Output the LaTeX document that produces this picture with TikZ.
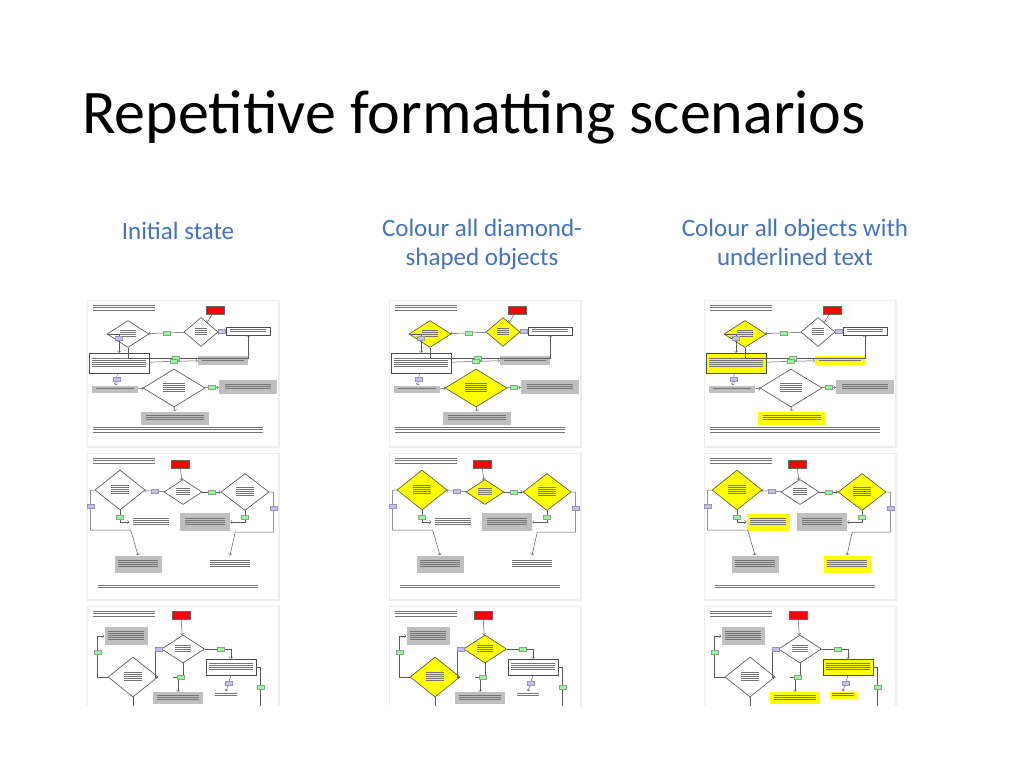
\documentclass[tikz,border=0pt]{standalone}
\usepackage{fontspec}
\setmainfont{Carlito}
\usetikzlibrary{shapes.geometric}
\definecolor{headblue}{RGB}{68,114,196}
\definecolor{hiyellow}{RGB}{255,255,0}

% fake text lines inside the thumbnails
\newcommand\lines[2]{{\color{black!55}\vbox{\foreach\k in {1,...,#2}{\hrule height .6pt width #1pt\vskip1.6pt}}}}

\tikzset{
  dia/.style={diamond,draw=black!70,line width=.6pt,inner sep=0,aspect=1.4},
  flowbox/.style={rectangle,draw=black!70,line width=.5pt,inner sep=1pt},
  startbox/.style={rectangle,fill=red,draw=black!60,line width=.3pt,minimum width=18pt,minimum height=8pt},
  yesbox/.style={rectangle,fill=green!45,draw=black!40,line width=.2pt,minimum width=7pt,minimum height=4pt,inner sep=0},
  nobox/.style={rectangle,fill=blue!25,draw=black!40,line width=.2pt,minimum width=7pt,minimum height=4pt,inner sep=0},
  flow/.style={draw=black!65,line width=.5pt},
  heading/.style={text=headblue,font=\fontsize{25}{29}\selectfont,align=center}
}

% thumbnail background
\newcommand\thumb{\fill[black!7] (-1,-1) rectangle (191.5,146.5);
  \fill[white] (0,0) rectangle (190,145);}

% colour sets: diamond, underlined diamond, underlined box, underlined grey box
\newcommand\colsone{\def\dfill{white}\def\dufill{white}\def\bufill{white}\def\gufill{black!25}}
\newcommand\colstwo{\def\dfill{hiyellow}\def\dufill{hiyellow}\def\bufill{white}\def\gufill{black!25}}
\newcommand\colsthree{\def\dfill{white}\def\dufill{hiyellow}\def\bufill{hiyellow}\def\gufill{hiyellow}}

\newcommand\rowone{
  \thumb
  \node[anchor=north west,inner sep=0] (hd) at (5,4) {\lines{62}{3}};
  \node[startbox] (start) at (127,9) {};
  \node[dia,fill=\dufill,minimum width=42pt,minimum height=27pt] (d1) at (40,33) {\lines{16}{4}};
  \node[dia,fill=\dfill,minimum width=34pt,minimum height=29pt] (d2) at (113,31) {\lines{12}{4}};
  \node[flowbox,fill=white,minimum width=44pt,minimum height=8pt] (b1) at (160,30) {\lines{36}{2}};
  \node[flowbox,fill=\bufill,minimum width=60pt,minimum height=20pt] (b2) at (31,62) {\lines{54}{5}};
  \node[flowbox,fill=\gufill,draw=none,minimum width=50pt,minimum height=9pt] (g1) at (135,59) {\lines{42}{2}};
  \node[flowbox,fill=black!25,draw=none,minimum width=46pt,minimum height=7pt] (g2) at (27,88) {\lines{38}{1}};
  \node[dia,fill=\dfill,minimum width=62pt,minimum height=38pt] (d3) at (86,87) {\lines{22}{5}};
  \node[flowbox,fill=black!25,draw=none,minimum width=58pt,minimum height=14pt] (g3) at (160,86) {\lines{46}{3}};
  \node[flowbox,fill=\gufill,draw=none,minimum width=68pt,minimum height=13pt] (g4) at (87,117) {\lines{58}{3}};
  \node[anchor=north west,inner sep=0] (ft) at (5,126) {\lines{170}{3}};
  \draw[flow,->] (start) -- (d2);
  \draw[flow,->] (d2) -- node[yesbox]{} (d1);
  \draw[flow,->] (d2) -- node[nobox]{} (b1);
  \draw[flow,->] (d1.south) |- node[pos=.8,yesbox]{} ++(80,10) -| (b1.south);
  \draw[flow,->] (d1.west) -| node[pos=.6,nobox]{} (b2.north);
  \draw[flow,->] (b2) -- node[yesbox]{} (g1);
  \draw[flow,->] (b2) -- node[nobox]{} (g2);
  \draw[flow,->] (g2) -- (d3);
  \draw[flow,->] (d3) -- node[yesbox]{} (g3);
  \draw[flow,->] (d3) -- (g4);
}

\newcommand\rowtwo{
  \thumb
  \node[anchor=north west,inner sep=0] (hd) at (5,4) {\lines{62}{3}};
  \node[startbox] (start) at (92,10) {};
  \node[dia,fill=\dufill,minimum width=50pt,minimum height=40pt] (d1) at (32,36) {\lines{18}{5}};
  \node[dia,fill=\dfill,minimum width=38pt,minimum height=25pt] (d2) at (95,38) {\lines{14}{4}};
  \node[dia,fill=\dufill,minimum width=48pt,minimum height=37pt] (d3) at (157,38) {\lines{18}{5}};
  \node[flowbox,fill=\bufill,draw=none,minimum width=43pt,minimum height=17pt] (b1) at (63,68) {\lines{36}{4}};
  \node[flowbox,fill=black!25,draw=none,minimum width=50pt,minimum height=18pt] (g1) at (117,68) {\lines{40}{4}};
  \node[flowbox,fill=black!25,draw=none,minimum width=47pt,minimum height=17pt] (g2) at (50,110) {\lines{40}{4}};
  \node[flowbox,fill=\bufill,draw=none,minimum width=47pt,minimum height=17pt] (b2) at (142,110) {\lines{40}{4}};
  \node[anchor=north west,inner sep=0] (ft) at (10,131) {\lines{160}{2}};
  \draw[flow,->] (start) -- (d2);
  \draw[flow,->] (d2) -- node[nobox]{} (d1);
  \draw[flow,->] (d2) -- node[yesbox]{} (d3);
  \draw[flow,->] (d1.south) |- node[pos=.3,yesbox]{} (b1.west);
  \draw[flow,->] (d3.south) |- node[pos=.3,yesbox]{} (g1.east);
  \draw[flow,->] (d1.west) -- ++(-4,0) |- node[pos=.2,nobox]{} ++(40,40) -- (g2.north);
  \draw[flow,->] (d3.east) -- ++(4,0) |- node[pos=.2,nobox]{} ++(-38,40) -- (b2.north);
}

\newcommand\rowthree{
  \thumb
  \node[anchor=north west,inner sep=0] (hd) at (5,4) {\lines{62}{3}};
  \node[startbox] (start) at (93,8) {};
  \node[flowbox,fill=black!25,draw=none,minimum width=43pt,minimum height=18pt] (g1) at (38,29) {\lines{36}{5}};
  \node[dia,fill=\dfill,minimum width=43pt,minimum height=28pt] (d1) at (95,42) {\lines{16}{4}};
  \node[dia,fill=\dfill,minimum width=50pt,minimum height=40pt] (d2) at (45,70) {\lines{18}{5}};
  \node[flowbox,fill=\bufill,minimum width=50pt,minimum height=16pt] (b1) at (143,60) {\lines{44}{4}};
  \node[flowbox,fill=\gufill,draw=none,minimum width=50pt,minimum height=12pt] (g2) at (90,91) {\lines{42}{3}};
  \node[flowbox,fill=\bufill,draw=none,minimum width=27pt,minimum height=7pt] (b2) at (138,88) {\lines{22}{2}};
  \draw[flow,->] (start) -- (d1);
  \draw[flow,->] (d1) -| node[pos=.3,yesbox]{} (b1.north);
  \draw[flow,->] (d1.south) |- node[pos=.6,yesbox]{} ++(-10,14) -| (g2.north);
  \draw[flow,->] (d1.west) -- node[nobox]{} ++(-6,0) |- (d2.east);
  \draw[flow,->] (b1.south) -- node[nobox]{} (b2.north);
  \draw[flow,->] (d2.west) -- ++(-10,0) |- node[pos=.3,yesbox]{} (g1.west);
  \draw[flow] (d2.south) -- ++(0,20);
  \draw[flow] (b1.east) -- ++(4,0) -- node[yesbox]{} ++(0,40);
}

\begin{document}
\begin{tikzpicture}[x=1pt,y=-1pt]
  \fill[white] (0,0) rectangle (1024,768);
  \useasboundingbox (0,0) rectangle (1024,768);

  % Title and headings

  \node[anchor=base west,inner sep=0,font=\fontsize{62}{72}\selectfont] (title) at (82,133) {Repetitive formatting scenarios};
  \node[heading] (h1) at (178,231) {Initial state};
  \node[heading] (h2) at (482,244) {Colour all diamond-\\shaped objects};
  \node[heading] (h3) at (795,242) {Colour all objects with\\underlined text};

  % Thumbnails

  \begin{scope}[shift={(88,301)},name prefix=a1-]\colsone\rowone\end{scope}
  \begin{scope}[shift={(390,301)},name prefix=b1-]\colstwo\rowone\end{scope}
  \begin{scope}[shift={(705,301)},name prefix=c1-]\colsthree\rowone\end{scope}

  \begin{scope}[shift={(88,454)},name prefix=a2-]\colsone\rowtwo\end{scope}
  \begin{scope}[shift={(390,454)},name prefix=b2-]\colstwo\rowtwo\end{scope}
  \begin{scope}[shift={(705,454)},name prefix=c2-]\colsthree\rowtwo\end{scope}

  \begin{scope}[shift={(88,607)},name prefix=a3-]
    \clip (-1,-1) rectangle (193,98);\colsone\rowthree\end{scope}
  \begin{scope}[shift={(390,607)},name prefix=b3-]
    \clip (-1,-1) rectangle (193,98);\colstwo\rowthree\end{scope}
  \begin{scope}[shift={(705,607)},name prefix=c3-]
    \clip (-1,-1) rectangle (193,98);\colsthree\rowthree\end{scope}
\end{tikzpicture}
\end{document}
